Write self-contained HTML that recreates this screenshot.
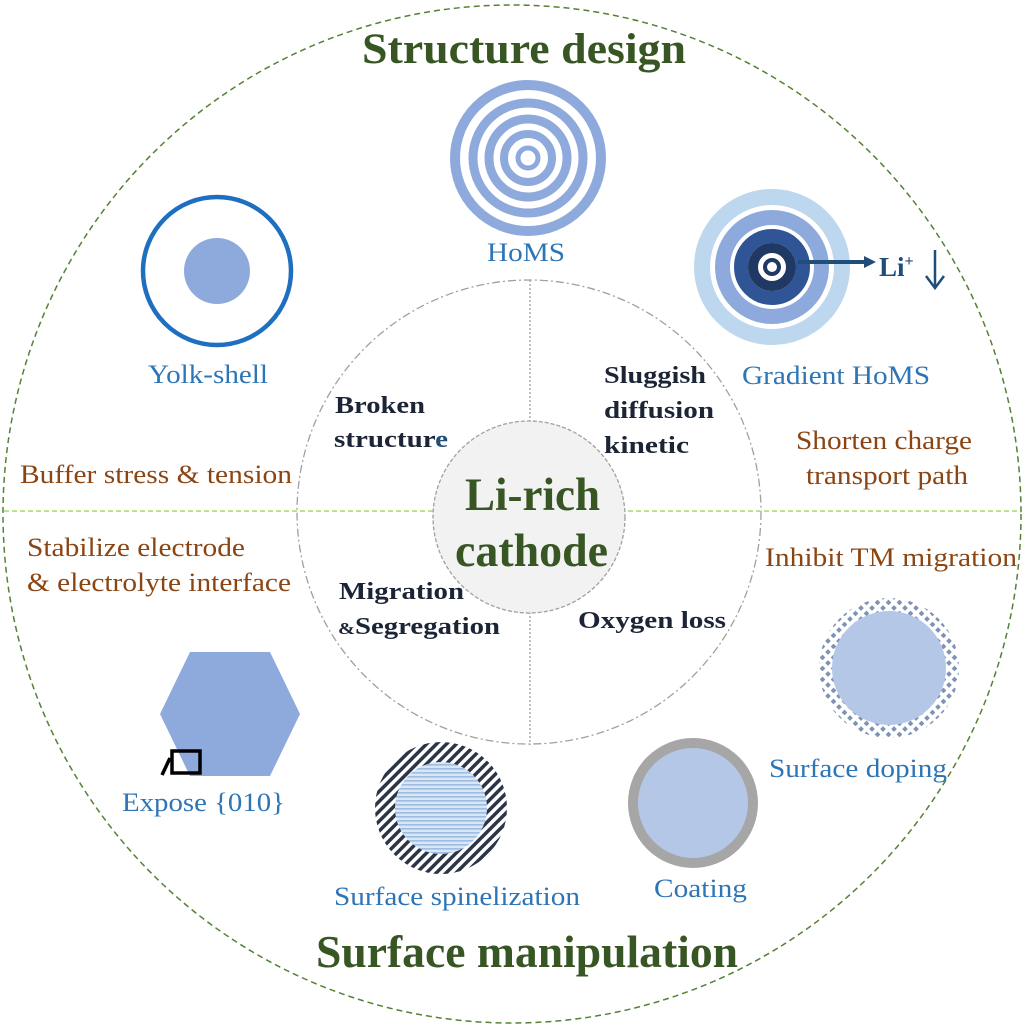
<!DOCTYPE html>
<html><head><style>
html,body{margin:0;padding:0;background:#fff;}
svg{display:block;}
text{font-family:"Liberation Serif",serif;}
.bl{fill:#2e75b6;font-size:26px;}
.br{fill:#8b4513;font-size:26px;}
.dk{fill:#1c2536;font-size:24px;font-weight:bold;}
.gr{fill:#375623;font-weight:bold;}
</style></head><body>
<svg width="1022" height="1028" viewBox="0 0 1022 1028" xmlns="http://www.w3.org/2000/svg">
<defs>
<pattern id="hatch" width="7" height="7" patternUnits="userSpaceOnUse" patternTransform="rotate(45)">
<rect width="7" height="7" fill="#fff"/><rect width="3.5" height="7" fill="#2b3547"/></pattern>
<pattern id="hl" width="6" height="4" patternUnits="userSpaceOnUse">
<rect width="6" height="4" fill="#dbe6f5"/><rect width="6" height="1.6" fill="#9ebde3"/></pattern>
<pattern id="chk" width="11" height="11" patternUnits="userSpaceOnUse">
<rect width="11" height="11" fill="#fff"/><rect x="1" y="1" width="4" height="4" fill="#7f93b5" transform="rotate(45 3 3)"/><rect x="6.5" y="6.5" width="4" height="4" fill="#7f93b5" transform="rotate(45 8.5 8.5)"/></pattern>
</defs>
<circle cx="512" cy="514" r="509" fill="none" stroke="#548235" stroke-width="1.5" stroke-dasharray="6,4"/>
<line x1="4" y1="511" x2="1020" y2="511" stroke="#8fd14f" stroke-width="1.3" stroke-dasharray="5,3"/>
<circle cx="529" cy="512" r="232" fill="#fff" stroke="#a0a0a0" stroke-width="1.3" stroke-dasharray="8,3,2,3"/>
<line x1="300" y1="511" x2="760" y2="511" stroke="#8fd14f" stroke-width="1.3" stroke-dasharray="5,3"/>
<line x1="530" y1="280" x2="530" y2="745" stroke="#a0a0a0" stroke-width="1.3" stroke-dasharray="2,2"/>
<circle cx="529" cy="517" r="96" fill="#f2f2f2" stroke="#a0a0a0" stroke-width="1.3" stroke-dasharray="4,2"/>
<text x="465" y="510" textLength="135" lengthAdjust="spacingAndGlyphs" class="gr" font-size="47">Li-rich</text>
<text x="455" y="566" textLength="153" lengthAdjust="spacingAndGlyphs" class="gr" font-size="47">cathode</text>
<text x="362" y="63" textLength="324" lengthAdjust="spacingAndGlyphs" class="gr" font-size="43">Structure design</text>
<text x="316" y="967" textLength="422" lengthAdjust="spacingAndGlyphs" class="gr" font-size="45">Surface manipulation</text>
<g fill="none" stroke="#8eaadc">
<circle cx="528" cy="158" r="73" stroke-width="10"/>
<circle cx="528" cy="158" r="55" stroke-width="9"/>
<circle cx="528" cy="158" r="39" stroke-width="9"/>
<circle cx="528" cy="158" r="24" stroke-width="8"/>
<circle cx="528" cy="158" r="10" stroke-width="5"/>
</g>
<text x="487" y="261" textLength="78" lengthAdjust="spacingAndGlyphs" class="bl">HoMS</text>
<circle cx="217" cy="271" r="74" fill="none" stroke="#1f6fc0" stroke-width="4.5"/>
<circle cx="217" cy="271" r="33" fill="#8eaadc"/>
<text x="148" y="383" textLength="120" lengthAdjust="spacingAndGlyphs" class="bl">Yolk-shell</text>
<g fill="none">
<circle cx="772" cy="267" r="70" stroke="#bdd7ee" stroke-width="16"/>
<circle cx="772" cy="267" r="49.5" stroke="#8eaadc" stroke-width="15"/>
<circle cx="772" cy="267" r="31" stroke="#2f5597" stroke-width="14"/>
<circle cx="772" cy="267" r="19" stroke="#1f3864" stroke-width="10"/>
<circle cx="772" cy="267" r="7" stroke="#1f3864" stroke-width="4"/>
</g>
<line x1="798" y1="262" x2="866" y2="262" stroke="#1f4e79" stroke-width="4"/>
<polygon points="864,256 876,262 864,268" fill="#1f4e79"/>
<text x="879" y="276" fill="#1f4e79" font-size="27" font-weight="bold">Li<tspan font-size="16" dy="-10">+</tspan></text>
<line x1="935" y1="250" x2="935" y2="287" stroke="#1f4e79" stroke-width="2.5"/>
<polyline points="926,276 935,288 944,276" fill="none" stroke="#1f4e79" stroke-width="2.5"/>
<text x="742" y="384" textLength="188" lengthAdjust="spacingAndGlyphs" class="bl">Gradient HoMS</text>
<text x="20" y="483" textLength="272" lengthAdjust="spacingAndGlyphs" class="br">Buffer stress &amp; tension</text>
<text x="796" y="449" textLength="176" lengthAdjust="spacingAndGlyphs" class="br">Shorten charge</text>
<text x="806" y="484" textLength="162" lengthAdjust="spacingAndGlyphs" class="br">transport path</text>
<text x="27" y="556" textLength="218" lengthAdjust="spacingAndGlyphs" class="br">Stabilize electrode</text>
<text x="27" y="591" textLength="264" lengthAdjust="spacingAndGlyphs" class="br">&amp; electrolyte interface</text>
<text x="765" y="566" textLength="252" lengthAdjust="spacingAndGlyphs" class="br">Inhibit TM migration</text>
<text x="335" y="413" textLength="90" lengthAdjust="spacingAndGlyphs" class="dk">Broken</text>
<text x="334" y="447" textLength="114" lengthAdjust="spacingAndGlyphs" class="dk">structur<tspan fill="#1f4e79">e</tspan></text>
<text x="604" y="383" textLength="102" lengthAdjust="spacingAndGlyphs" class="dk">Sluggish</text>
<text x="604" y="418" textLength="110" lengthAdjust="spacingAndGlyphs" class="dk">diffusion</text>
<text x="604" y="453" textLength="85" lengthAdjust="spacingAndGlyphs" class="dk">kinetic</text>
<text x="339" y="599" textLength="125" lengthAdjust="spacingAndGlyphs" class="dk">Migration</text>
<text x="338" y="634" textLength="162" lengthAdjust="spacingAndGlyphs" class="dk"><tspan font-size="17">&amp;</tspan>Segregation</text>
<text x="578" y="628" textLength="148" lengthAdjust="spacingAndGlyphs" class="dk">Oxygen loss</text>
<polygon points="190,652 270,652 300,714 270,776 190,776 160,714" fill="#8eaadc"/>
<rect x="172" y="751" width="28" height="22" fill="none" stroke="#000" stroke-width="3.5"/>
<line x1="170" y1="758" x2="162" y2="775" stroke="#000" stroke-width="3.5"/>
<text x="122" y="811" textLength="163" lengthAdjust="spacingAndGlyphs" class="bl">Expose {010}</text>
<circle cx="441" cy="808" r="66" fill="url(#hatch)"/>
<circle cx="441" cy="808" r="46" fill="url(#hl)"/>
<text x="334" y="905" textLength="246" lengthAdjust="spacingAndGlyphs" class="bl">Surface spinelization</text>
<circle cx="693" cy="803" r="60" fill="#b4c7e7" stroke="#a6a6a6" stroke-width="10"/>
<text x="654" y="897" textLength="93" lengthAdjust="spacingAndGlyphs" class="bl">Coating</text>
<circle cx="889" cy="668" r="70" fill="url(#chk)"/>
<circle cx="889" cy="668" r="57" fill="#b4c7e7"/>
<text x="769" y="777" textLength="178" lengthAdjust="spacingAndGlyphs" class="bl">Surface doping</text>
</svg>
</body></html>
